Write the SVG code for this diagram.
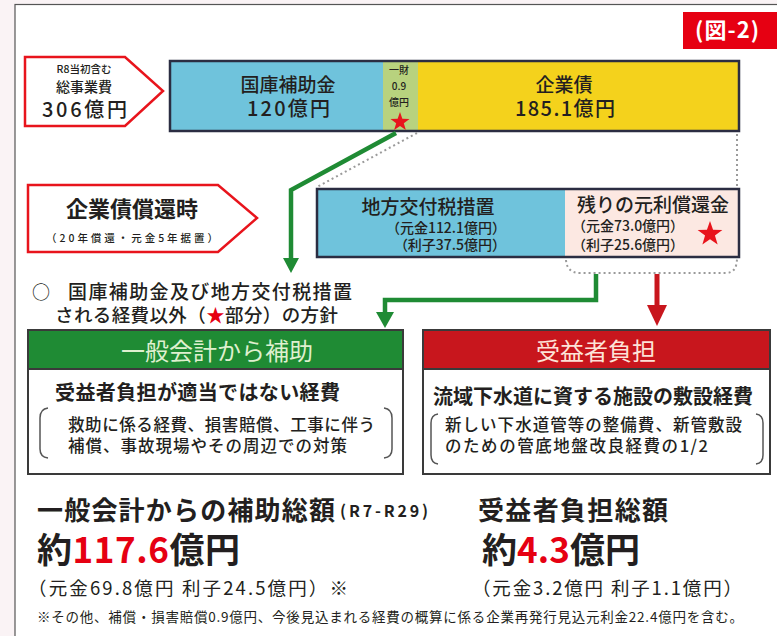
<svg xmlns="http://www.w3.org/2000/svg" width="777" height="636" viewBox="0 0 777 636">
<style>
text{font-family:"Noto Sans CJK JP","Noto Sans",sans-serif;fill:#231f20}
.b{font-weight:700}
.m{font-weight:500}
.red{fill:#e60012}
.w{fill:#ffffff}
.pent{fill:#ffffff;stroke:#e8141c;stroke-width:2.5;stroke-linejoin:miter}
.bar{fill:none;stroke:#2b2d42;stroke-width:2.5}
.gl{fill:none;stroke:#1f8b34;stroke-width:4.5;stroke-linejoin:miter}
.rl{fill:none;stroke:#c8161d;stroke-width:5}
.dot{fill:none;stroke:#9a9a9a;stroke-width:2;stroke-dasharray:2 3}
.box{fill:#ffffff;stroke:#3a3a3a;stroke-width:2}
.brk{fill:none;stroke:#555;stroke-width:1.5}
</style>
<defs>
<path id="star" d="M0,-10 L2.35,-3.24 L9.51,-3.09 L3.80,1.24 L5.88,8.09 L0,4 L-5.88,8.09 L-3.80,1.24 L-9.51,-3.09 L-2.35,-3.24Z" fill="#e8141c"/>
</defs>
<rect x="0" y="0" width="777" height="636" fill="#faf3f5"/>
<rect x="15" y="4.5" width="770" height="640" fill="#ffffff" stroke="#555" stroke-width="1.2"/>

<g id="fig-label">
<rect x="683" y="12" width="100" height="37" fill="#e60012"/>
<text x="695" y="38" class="b w" font-size="22" textLength="64">(図-2)</text>
</g>

<g id="total-cost">
<polygon class="pent" points="25,57 125,57 163,91 125,126 25,126"/>
<text x="84" y="73" font-size="10.5" text-anchor="middle" class="m">R8当初含む</text>
<text x="84" y="92" font-size="14" text-anchor="middle" class="m">総事業費</text>
<text x="42" y="117" font-size="20" textLength="85" class="m">306億円</text>
</g>

<g id="top-bar">
<rect x="170" y="61" width="213" height="70" fill="#6fc3dc"/>
<rect x="383" y="61" width="35" height="70" fill="#b8d27e"/>
<rect x="418" y="61" width="321" height="70" fill="#f4d21c"/>
<rect class="bar" x="170" y="61" width="569" height="70"/>
<text x="288" y="92" font-size="19" text-anchor="middle" class="m">国庫補助金</text>
<text x="247" y="116" font-size="20" textLength="83" class="m">120億円</text>
<text x="399" y="74" font-size="10" text-anchor="middle" class="m">一財</text>
<text x="399" y="90" font-size="10" text-anchor="middle" class="m">0.9</text>
<text x="399" y="106" font-size="10" text-anchor="middle" class="m">億円</text>
<use href="#star" transform="translate(400,122)"/>
<text x="564" y="92" font-size="19" text-anchor="middle" class="m">企業債</text>
<text x="515" y="116" font-size="20" textLength="100" class="m">185.1億円</text>
</g>

<g id="redemption">
<polygon class="pent" points="28,185 218,185 257,218 218,252 28,252"/>
<text x="132" y="217" font-size="22" text-anchor="middle" class="b">企業債償還時</text>
<text x="46" y="242" font-size="10.5" textLength="172" class="m">（20年償還・元金5年据置）</text>
</g>

<g id="second-bar">
<rect x="317" y="189" width="248" height="68" fill="#6fc3dc"/>
<rect x="565" y="189" width="174" height="68" fill="#fce8e2"/>
<rect class="bar" x="317" y="189" width="422" height="68"/>
<text x="428" y="214" font-size="19" text-anchor="middle" class="m">地方交付税措置</text>
<text x="506" y="233" font-size="14" text-anchor="end" class="m">（元金112.1億円）</text>
<text x="506" y="250" font-size="14" text-anchor="end" class="m">（利子37.5億円）</text>
<text x="653" y="212" font-size="19" text-anchor="middle" class="m">残りの元利償還金</text>
<text x="572" y="231" font-size="14" class="m">（元金73.0億円）</text>
<text x="572" y="250" font-size="14" class="m">（利子25.6億円）</text>
<use href="#star" transform="translate(710,234) scale(1.3)"/>
</g>

<g id="policy-note">
<text x="32" y="299" font-size="18">○</text>
<text x="68" y="299" font-size="19" textLength="284" class="m">国庫補助金及び地方交付税措置</text>
<text x="55" y="322" font-size="18.5" textLength="283" class="m">される経費以外（<tspan class="red">★</tspan>部分）の方針</text>
</g>

<g id="connectors">
<polyline class="dot" points="417,133 317,187"/>
<line class="dot" x1="737" y1="134" x2="737" y2="188"/>
<path class="dot" d="M566,260 Q567,273 580,273 H726 Q737,273 737,258"/>
<polyline class="gl" points="396,133 291,190 291,259"/>
<polygon points="283,258 299,258 291,273" fill="#1f8b34"/>
<polyline class="gl" points="596,274 596,300 385,300 385,313"/>
<polygon points="376,312 394,312 385,328" fill="#1f8b34"/>
<line class="rl" x1="657" y1="274" x2="657" y2="307"/>
<polygon points="647,305 667,305 657,326" fill="#c8161d"/>
</g>

<g id="general-account">
<rect class="box" x="28" y="330" width="375" height="144"/>
<rect x="28" y="330" width="375" height="39" fill="#1f8b34" stroke="#3a3a3a" stroke-width="2"/>
<text x="217" y="360" font-size="24" text-anchor="middle" style="fill:#dff0cf">一般会計から補助</text>
<text x="55" y="400" font-size="20" class="b" textLength="285">受益者負担が適当ではない経費</text>
<path class="brk" d="M48,408 Q40,409 40,418 V449 Q40,457 48,458"/>
<path class="brk" d="M384,408 Q392,409 392,418 V449 Q392,457 384,458"/>
<text x="68" y="431" font-size="16.5" textLength="307" class="m">救助に係る経費、損害賠償、工事に伴う</text>
<text x="68" y="452" font-size="16.5" textLength="279" class="m">補償、事故現場やその周辺での対策</text>
</g>

<g id="beneficiary">
<rect class="box" x="423" y="330" width="347" height="144"/>
<rect x="423" y="330" width="347" height="39" fill="#c8161d" stroke="#3a3a3a" stroke-width="2"/>
<text x="596" y="360" font-size="24" text-anchor="middle" style="fill:#fde3d8">受益者負担</text>
<text x="433" y="404" font-size="20" class="b" textLength="320">流域下水道に資する施設の敷設経費</text>
<path class="brk" d="M438,414 Q431,415 431,423 V455 Q431,463 438,464"/>
<path class="brk" d="M756,414 Q763,415 763,423 V455 Q763,463 756,464"/>
<text x="445" y="431" font-size="16.5" textLength="297" class="m">新しい下水道管等の整備費、新管敷設</text>
<text x="445" y="452" font-size="16.5" textLength="263" class="m">のための管底地盤改良経費の1/2</text>
</g>

<g id="totals">
<text x="37" y="520" font-size="26" class="b" textLength="298">一般会計からの補助総額</text>
<text x="340" y="517" font-size="16" class="b" textLength="88">(R7-R29)</text>
<text x="37" y="563" font-size="35" class="b" textLength="203">約<tspan class="red">117.6</tspan>億円</text>
<text x="28" y="595" font-size="18.5" textLength="320">（元金69.8億円 利子24.5億円）※</text>
<text x="478" y="520" font-size="26" class="b" textLength="190">受益者負担総額</text>
<text x="482" y="563" font-size="35" class="b" textLength="158">約<tspan class="red">4.3</tspan>億円</text>
<text x="472" y="595" font-size="18.5" textLength="270">（元金3.2億円 利子1.1億円）</text>
<text x="37" y="622" font-size="13.5" textLength="706">※その他、補償・損害賠償0.9億円、今後見込まれる経費の概算に係る企業再発行見込元利金22.4億円を含む。</text>
</g>
</svg>
